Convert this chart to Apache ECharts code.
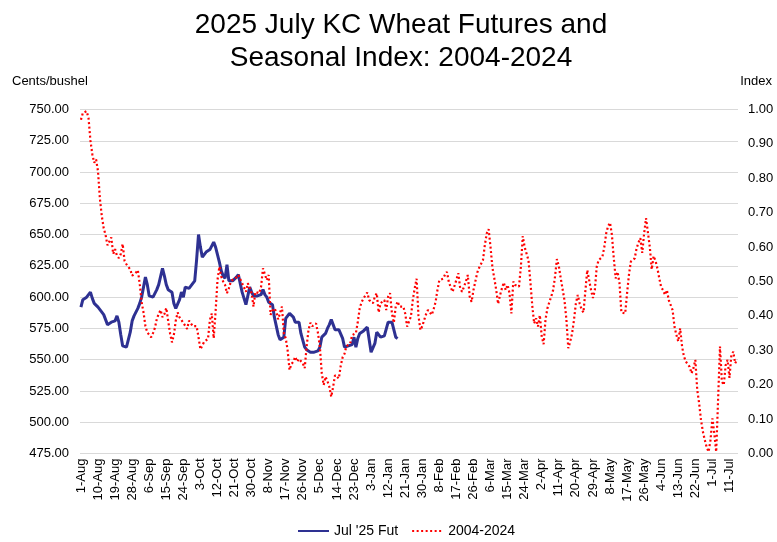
<!DOCTYPE html>
<html>
<head>
<meta charset="utf-8">
<script src="https://cdn.jsdelivr.net/npm/echarts@6/dist/echarts.min.js"></script>
<style>
  html, body { margin: 0; padding: 0; background: #fff; }
  #chart { width: 777px; height: 542px; }
</style>
</head>
<body>
<div id="chart"></div>
<script>
// category days: 1-Aug .. 15-Jul (leap-year calendar, market holidays left out)
const monthNames = ['Aug', 'Sep', 'Oct', 'Nov', 'Dec', 'Jan', 'Feb', 'Mar', 'Apr', 'May', 'Jun', 'Jul']
const monthDays = [31, 30, 31, 30, 31, 31, 29, 31, 30, 31, 30, 15]
const skipDays = ['25-Dec', '1-Jan', '4-Jul']

const days = []
monthNames.forEach((m, k) => {
  for (let d = 1; d <= monthDays[k]; d++) {
    const label = d + '-' + m
    if (!skipDays.includes(label)) days.push(label)
  }
})

// Jul '25 KC wheat futures, cents/bushel (left axis)
const futures = [
  592, 598, 599, 600, 601, 604, 599, 595, 594, 592,
  590, 588, 586, 585, 578, 579, 580, 581, 581, 585,
  580, 570, 561, 560, 560, 561, 572, 581, 585, 588,
  591, 595, 600, 608, 616, 610, 601, 601, 600, 600,
  606, 610, 611, 623, 617, 610, 606, 605, 604, 595,
  591, 590, 598, 604, 600, 608, 608, 607, 609, 611,
  613, 630, 650, 640, 632, 634, 636, 637, 638, 641,
  644, 640, 634, 628, 621, 617, 615, 626, 613, 613,
  613, 613, 616, 618, 617, 604, 603, 594, 594, 608,
  604, 601, 600, 601, 602, 602, 606, 602, 600, 596,
  595, 594, 584, 577, 570, 566, 567, 568, 583, 585,
  587, 588, 584, 580, 580, 580, 571, 571, 560, 558,
  557, 556, 556, 556, 556, 557, 560, 568, 569, 571,
  575, 578, 582, 578, 574, 574, 574, 574, 567, 560,
  560, 561, 561, 562, 568, 560, 567, 571, 572, 573,
  574, 576, 566, 556, 556, 563, 572, 570, 568, 568,
  569, 570, 580, 580, 580, 574, 568, 567
]

// 2004-2024 seasonal index (right axis)
const seasonal = [
  0.97, 0.99, 0.985, 0.995, 0.975, 0.91, 0.87, 0.845, 0.855, 0.82,
  0.74, 0.69, 0.655, 0.635, 0.605, 0.605, 0.628, 0.58, 0.594, 0.575,
  0.568, 0.58, 0.609, 0.56, 0.55, 0.545, 0.535, 0.517, 0.52, 0.526,
  0.533, 0.493, 0.44, 0.41, 0.37, 0.352, 0.345, 0.338, 0.35, 0.365,
  0.391, 0.406, 0.417, 0.396, 0.405, 0.423, 0.386, 0.349, 0.323, 0.345,
  0.386, 0.41, 0.396, 0.388, 0.38, 0.375, 0.362, 0.386, 0.378, 0.37,
  0.372, 0.37, 0.338, 0.303, 0.304, 0.325, 0.32, 0.333, 0.388, 0.407,
  0.335, 0.412, 0.504, 0.543, 0.514, 0.5, 0.49, 0.466, 0.48, 0.499,
  0.505, 0.508, 0.512, 0.519, 0.518, 0.495, 0.496, 0.47, 0.495, 0.48,
  0.466, 0.427, 0.47, 0.468, 0.466, 0.485, 0.538, 0.535, 0.504, 0.519,
  0.403, 0.415, 0.422, 0.412, 0.39, 0.388, 0.427, 0.349, 0.335, 0.3,
  0.243, 0.26, 0.267, 0.281, 0.267, 0.275, 0.277, 0.262, 0.248, 0.31,
  0.359, 0.38, 0.37, 0.369, 0.378, 0.35, 0.31, 0.233, 0.199, 0.223,
  0.21, 0.194, 0.165, 0.194, 0.228, 0.223, 0.218, 0.255, 0.28, 0.29,
  0.312, 0.315, 0.32, 0.344, 0.349, 0.35, 0.383, 0.422, 0.44, 0.451,
  0.451, 0.468, 0.446, 0.446, 0.437, 0.456, 0.466, 0.41, 0.437, 0.44,
  0.446, 0.417, 0.456, 0.466, 0.407, 0.38, 0.427, 0.442, 0.427, 0.43,
  0.427, 0.407, 0.369, 0.367, 0.398, 0.446, 0.48, 0.508, 0.4, 0.359,
  0.37, 0.388, 0.405, 0.417, 0.417, 0.403, 0.42, 0.44, 0.475, 0.504,
  0.499, 0.508, 0.52, 0.528, 0.499, 0.483, 0.47, 0.466, 0.505, 0.524,
  0.48, 0.47, 0.485, 0.5, 0.519, 0.456, 0.441, 0.475, 0.478, 0.526,
  0.54, 0.535, 0.562, 0.606, 0.64, 0.652, 0.6, 0.54, 0.509, 0.475,
  0.435, 0.46, 0.48, 0.497, 0.475, 0.49, 0.466, 0.407, 0.5, 0.49,
  0.487, 0.485, 0.543, 0.632, 0.6, 0.595, 0.562, 0.5, 0.43, 0.378,
  0.393, 0.369, 0.402, 0.34, 0.318, 0.39, 0.422, 0.44, 0.456, 0.475,
  0.514, 0.565, 0.545, 0.51, 0.478, 0.445, 0.39, 0.306, 0.325, 0.349,
  0.388, 0.436, 0.461, 0.436, 0.419, 0.41, 0.406, 0.533, 0.504, 0.475,
  0.452, 0.475, 0.543, 0.562, 0.561, 0.572, 0.6, 0.64, 0.661, 0.671,
  0.636, 0.567, 0.509, 0.528, 0.495, 0.41, 0.407, 0.407, 0.466, 0.52,
  0.558, 0.553, 0.567, 0.596, 0.613, 0.626, 0.583, 0.64, 0.684, 0.688,
  0.6, 0.535, 0.574, 0.56, 0.538, 0.509, 0.483, 0.475, 0.461, 0.475,
  0.446, 0.446, 0.417, 0.369, 0.345, 0.326, 0.364, 0.311, 0.282, 0.267,
  0.26, 0.252, 0.233, 0.248, 0.272, 0.185, 0.146, 0.097, 0.063, 0.039,
  0.018, 0.005, 0.039, 0.102, 0.058, 0.005, 0.156, 0.311, 0.209, 0.199,
  0.257, 0.272, 0.22, 0.286, 0.296, 0.262, 0.272
]

const font = '"Liberation Sans", Arial, sans-serif'
const textColor = '#000'

const chart = echarts.init(document.getElementById('chart'))
chart.setOption({
  animation: false,
  textStyle: { fontFamily: font },
  title: [
    {
      text: '2025 July KC Wheat Futures and\nSeasonal Index: 2004-2024',
      left: 396,
      top: 4,
      textAlign: 'center',
      textStyle: { fontFamily: font, fontSize: 28, fontWeight: 'normal', color: textColor, lineHeight: 33 }
    },
    {
      text: 'Cents/bushel',
      left: 7,
      top: 70,
      textStyle: { fontFamily: font, fontSize: 13, fontWeight: 'normal', color: textColor }
    },
    {
      text: 'Index',
      right: 0,
      top: 70,
      textStyle: { fontFamily: font, fontSize: 13, fontWeight: 'normal', color: textColor }
    }
  ],
  legend: {
    top: 519,
    left: 292,
    itemWidth: 31,
    itemHeight: 12,
    itemGap: 13,
    itemStyle: { opacity: 0 },
    textStyle: { fontFamily: font, fontSize: 14, color: textColor },
    data: ["Jul '25 Fut", '2004-2024']
  },
  grid: { left: 80, right: 39, top: 109.5, bottom: 88.5 },
  xAxis: {
    type: 'category',
    data: days,
    axisLine: { show: false },
    axisTick: { show: false },
    axisLabel: {
      interval: 8,
      rotate: 90,
      margin: 5,
      fontFamily: font,
      fontSize: 13,
      color: textColor
    }
  },
  yAxis: [
    {
      type: 'value',
      min: 475,
      max: 750,
      interval: 25,
      axisLine: { show: false },
      axisTick: { show: false },
      splitLine: { lineStyle: { color: '#d9d9d9', width: 1 } },
      axisLabel: {
        fontFamily: font,
        fontSize: 13,
        color: textColor,
        margin: 11,
        formatter: v => v.toFixed(2)
      }
    },
    {
      type: 'value',
      min: 0,
      max: 1,
      interval: 0.1,
      axisLine: { show: false },
      axisTick: { show: false },
      splitLine: { show: false },
      axisLabel: {
        fontFamily: font,
        fontSize: 13,
        color: textColor,
        margin: 10,
        formatter: v => v.toFixed(2)
      }
    }
  ],
  series: [
    {
      name: "Jul '25 Fut",
      type: 'line',
      yAxisIndex: 0,
      data: futures,
      symbol: 'none',
      lineStyle: { color: '#2E3192', width: 3 },
      itemStyle: { color: '#2E3192' }
    },
    {
      name: '2004-2024',
      type: 'line',
      yAxisIndex: 1,
      data: seasonal,
      symbol: 'none',
      lineStyle: { color: '#ff0000', width: 2.2, type: [2, 2.5], cap: 'butt' },
      itemStyle: { color: '#ff0000' }
    }
  ]
})
</script>
</body>
</html>
